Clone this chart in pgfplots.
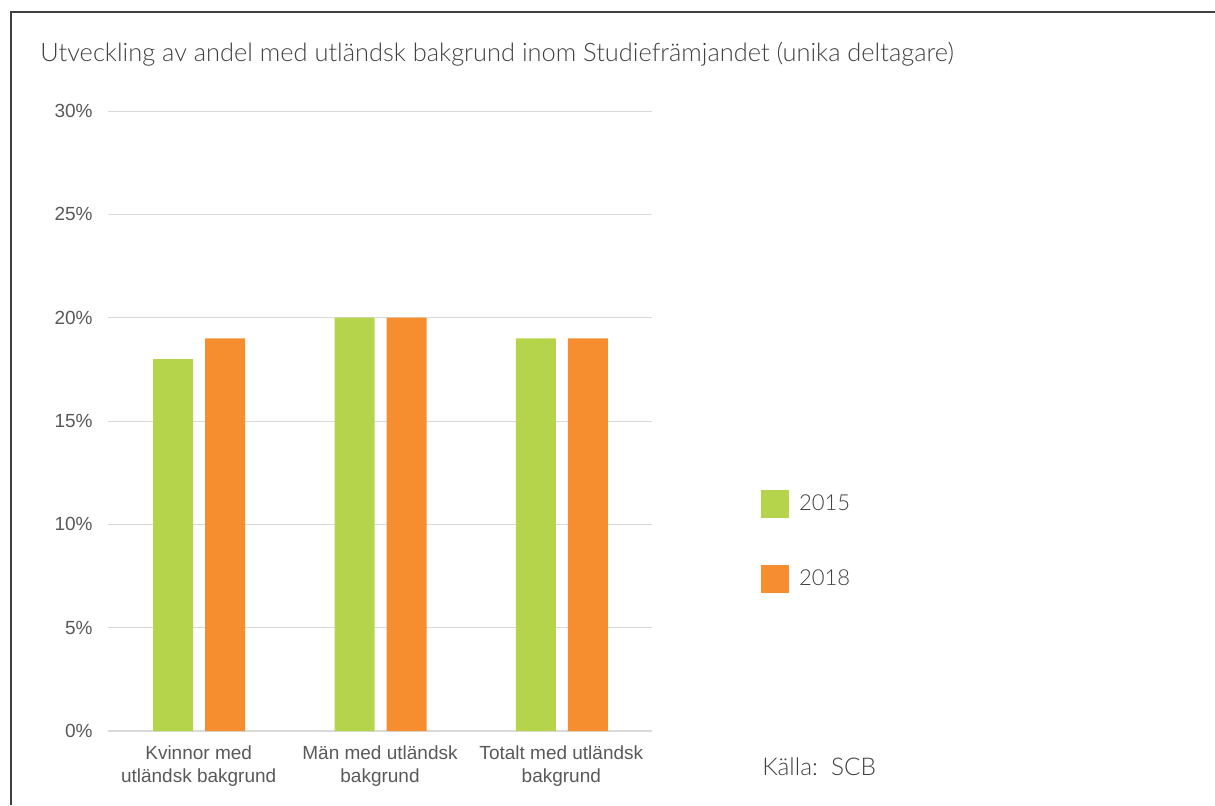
\documentclass[border=0pt]{standalone}
\usepackage{pgfplots}
\pgfplotsset{compat=1.18}
\usepackage{fontspec}
\setmainfont{Liberation Sans}
\newfontfamily\lightfont{Lato Light}
\definecolor{cgreen}{HTML}{B5D44C}
\definecolor{corange}{HTML}{F68E2F}
\definecolor{gridc}{HTML}{D9D9D9}
\definecolor{labc}{HTML}{595959}
\definecolor{titc}{HTML}{404040}
\begin{document}
\begin{tikzpicture}
\useasboundingbox (0,0) rectangle (607.5pt,402.5pt);
\draw[line width=0.9pt, color=titc] (5.5pt,0) -- (5.5pt,396.5pt) -- (607.5pt,396.5pt);
\node[anchor=base west, inner sep=0pt, text=titc, font=\lightfont\fontsize{12.7}{14}\selectfont] at (20pt,371.5pt)
  {Utveckling av andel med utländsk bakgrund inom Studiefrämjandet (unika deltagare)};
\begin{axis}[
  at={(54pt,37pt)}, anchor=south west,
  scale only axis, width=272pt, height=310pt,
  ybar=6pt, bar width=20pt,
  xmin=-0.5, xmax=2.5, ymin=0, ymax=30,
  xtick={0,1,2},
  xticklabels={{Kvinnor med\\utländsk bakgrund},{Män med utländsk\\bakgrund},{Totalt med utländsk\\bakgrund}},
  ytick={0,5,10,15,20,25,30},
  yticklabel={\pgfmathprintnumber{\tick}\%},
  /pgf/number format/assume math mode=true,
  major tick length=0pt,
  tick style={draw=none},
  axis x line*=bottom, axis y line*=left,
  x axis line style={color=gridc, line width=0.6pt, -},
  y axis line style={draw=none},
  ymajorgrids, grid style={color=gridc, line width=0.5pt},
  yticklabel style={inner sep=0pt, anchor=east, xshift=-7.5pt, text=labc, font=\fontsize{9.5}{11.5}\selectfont},
  xticklabel style={inner sep=0pt, anchor=north, yshift=-7pt, align=center, text=labc, font=\fontsize{9.5}{11.5}\selectfont},
  legend style={at={(rel axis cs:1.2005,0.3887)}, anchor=north west, draw=none, fill=none,
    inner sep=0pt, outer sep=0pt, row sep=23.5pt,
    font=\lightfont\fontsize{11}{11}\selectfont, text=titc,
    nodes={inner sep=0pt, anchor=west},
    /tikz/every odd column/.append style={column sep=5pt}},
  clip=false,
]
\addplot[fill=cgreen, draw=none, bar shift=-12.75pt, legend image code/.code={\fill[cgreen] (0pt,-7pt) rectangle (14pt,7pt);}]
  coordinates {(0,18) (1,20) (2,19)};
\addplot[fill=corange, draw=none, bar shift=13.25pt, legend image code/.code={\fill[corange] (0pt,-7pt) rectangle (14pt,7pt);}]
  coordinates {(0,19) (1,20) (2,19)};
\legend{2015,2018}
\node[anchor=base west, inner sep=0pt, text=titc, font=\lightfont\fontsize{12.2}{12}\selectfont] at (rel axis cs:1.202,-0.071) {Källa:\ \ SCB};
\end{axis}
\end{tikzpicture}
\end{document}
